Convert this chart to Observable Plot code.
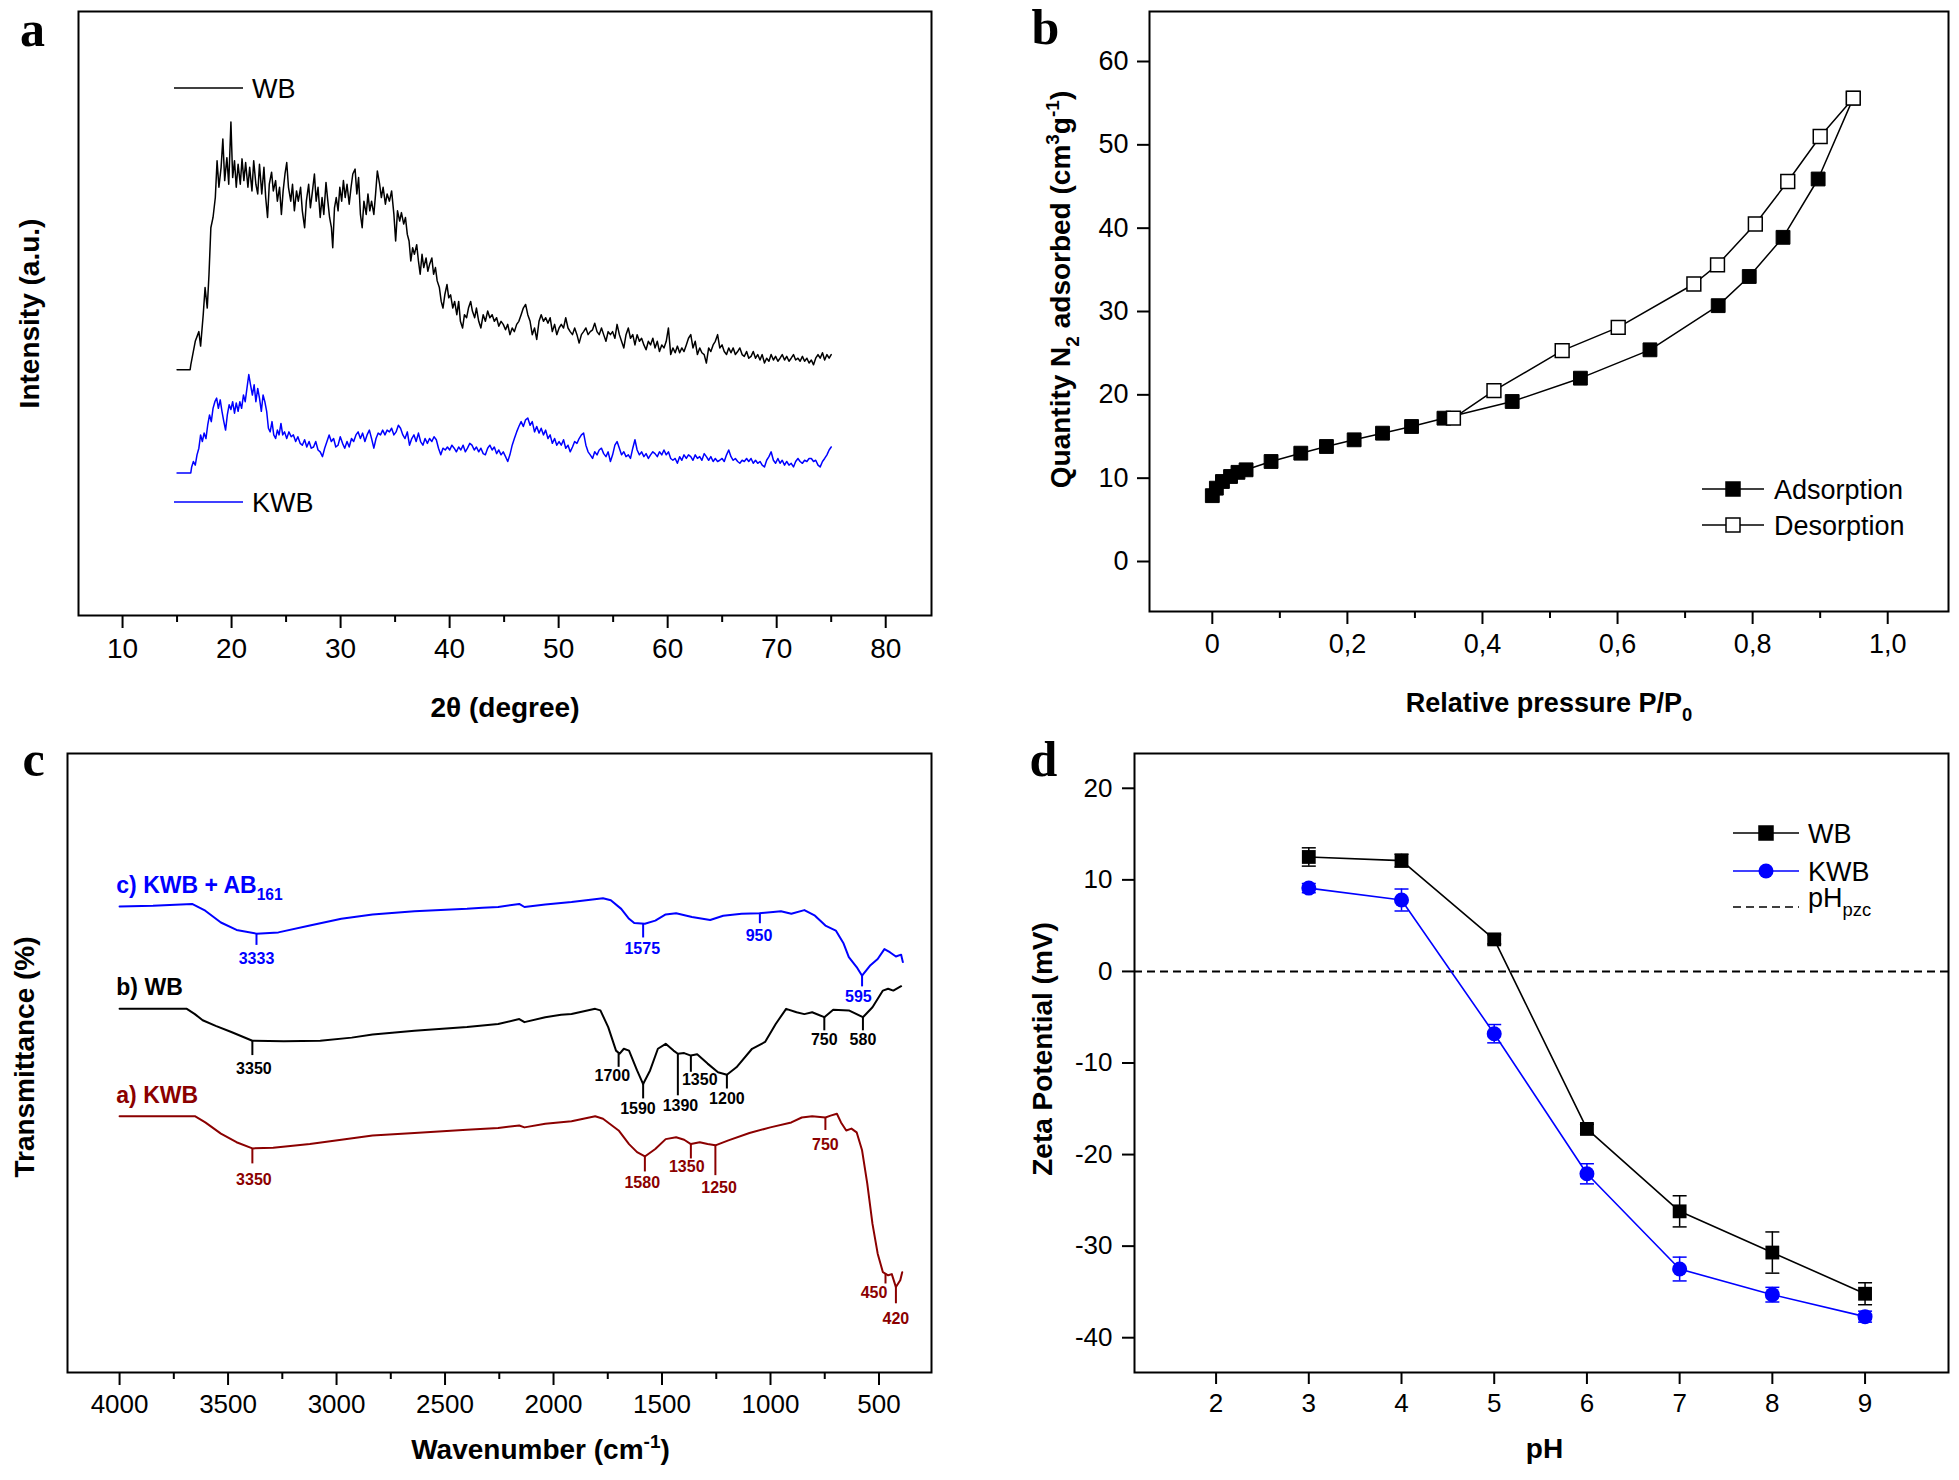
<!DOCTYPE html>
<html><head><meta charset="utf-8">
<script src="https://cdn.jsdelivr.net/npm/d3@7"></script>
<script src="https://cdn.jsdelivr.net/npm/@observablehq/plot@0.6"></script>
<style>
body{margin:0;background:#fff;}
#fig{position:relative;width:1959px;height:1480px;background:#fff;overflow:hidden;}
</style></head><body><div id="fig"></div>
<script>
// ---------- Panel a: XRD  ([2θ, intensity a.u.]) ----------
const xrdTicks = [10,20,30,40,50,60,70,80];
const xrdMinorTicks = [15,25,35,45,55,65,75];
const xrdWB = [[15.0,40.7],[16.2,40.7],[16.26,41.5],[16.67,45.4],[17.0,47.0],[17.16,44.6],[17.4,49.8],[17.57,54.3],[17.77,50.9],[17.93,56.5],[18.1,64.2],[18.3,65.9],[18.51,69.2],[18.67,75.3],[18.84,70.9],[19.04,74.2],[19.2,78.9],[19.37,72.0],[19.57,75.8],[19.74,71.4],[19.94,81.7],[20.1,72.5],[20.27,75.3],[20.43,70.9],[20.6,74.7],[20.8,71.4],[20.96,75.6],[21.13,72.0],[21.29,75.0],[21.5,70.9],[21.66,74.2],[21.87,70.3],[22.03,75.3],[22.23,71.4],[22.4,69.8],[22.56,74.7],[22.77,69.8],[22.97,74.2],[23.13,69.2],[23.3,65.9],[23.46,71.4],[23.67,73.4],[23.83,70.3],[24.04,72.0],[24.2,68.6],[24.4,70.9],[24.57,66.4],[24.73,70.3],[24.9,73.1],[25.06,75.0],[25.22,70.9],[25.43,68.6],[25.59,71.4],[25.76,67.0],[25.96,70.3],[26.12,68.6],[26.33,70.9],[26.49,67.0],[26.7,64.2],[26.86,68.6],[27.07,71.4],[27.23,67.5],[27.39,69.8],[27.6,73.1],[27.76,68.6],[27.93,70.9],[28.13,65.9],[28.3,69.2],[28.46,66.4],[28.66,71.7],[28.83,68.6],[28.99,65.9],[29.16,64.2],[29.28,60.9],[29.44,67.5],[29.6,69.2],[29.77,67.0],[29.93,70.9],[30.1,68.6],[30.26,72.0],[30.42,69.2],[30.59,71.4],[30.79,68.1],[30.96,70.9],[31.12,73.1],[31.33,73.9],[31.49,69.8],[31.65,72.5],[31.82,66.4],[31.98,64.2],[32.14,68.6],[32.35,66.4],[32.51,69.8],[32.68,67.0],[32.84,68.6],[33.05,66.4],[33.21,69.8],[33.37,73.6],[33.58,71.4],[33.74,69.2],[33.9,70.9],[34.11,68.1],[34.27,69.8],[34.48,68.6],[34.68,70.3],[34.89,66.4],[35.05,62.0],[35.22,67.0],[35.42,65.3],[35.58,66.7],[35.79,64.8],[35.95,65.9],[36.12,63.1],[36.28,62.0],[36.44,58.7],[36.61,60.9],[36.77,59.8],[36.98,61.4],[37.14,58.7],[37.3,56.5],[37.47,59.8],[37.63,57.6],[37.84,59.2],[38.0,57.0],[38.16,58.1],[38.37,59.2],[38.53,56.5],[38.7,57.6],[38.86,55.4],[39.06,54.3],[39.23,52.0],[39.39,50.9],[39.56,53.1],[39.76,54.8],[39.92,52.6],[40.09,53.1],[40.29,50.9],[40.46,52.0],[40.66,49.8],[40.83,52.0],[40.99,48.7],[41.19,47.6],[41.36,49.8],[41.56,49.3],[41.73,50.9],[41.93,52.0],[42.09,50.4],[42.3,49.3],[42.46,50.9],[42.67,48.7],[42.87,47.6],[43.08,49.8],[43.28,48.7],[43.49,50.4],[43.69,49.3],[43.9,49.8],[44.1,48.7],[44.31,49.3],[44.51,47.9],[44.72,48.7],[44.92,48.2],[45.13,47.3],[45.33,48.2],[45.53,46.5],[45.74,47.6],[45.94,47.0],[46.15,48.2],[46.35,48.7],[46.56,49.8],[46.76,50.9],[46.97,51.5],[47.17,49.8],[47.38,48.7],[47.58,46.5],[47.79,47.6],[47.99,45.7],[48.2,48.7],[48.4,49.8],[48.61,48.7],[48.81,49.3],[49.02,48.4],[49.22,49.3],[49.42,47.0],[49.63,48.2],[49.83,46.5],[50.04,47.6],[50.24,48.2],[50.45,47.6],[50.65,49.3],[50.86,47.6],[51.06,47.0],[51.27,46.5],[51.47,47.6],[51.68,46.5],[51.88,45.1],[52.09,46.5],[52.29,47.0],[52.5,47.6],[52.7,46.5],[52.9,47.0],[53.11,47.3],[53.31,48.4],[53.52,47.0],[53.72,46.5],[53.93,47.6],[54.13,46.5],[54.34,45.4],[54.54,47.0],[54.75,46.5],[54.95,47.0],[55.16,45.9],[55.36,48.2],[55.57,46.5],[55.77,45.4],[55.98,44.3],[56.18,46.5],[56.39,47.6],[56.59,45.9],[56.8,46.5],[57.0,44.8],[57.2,46.5],[57.41,45.4],[57.61,45.9],[57.82,44.8],[58.02,44.0],[58.23,45.4],[58.43,44.8],[58.64,45.9],[58.84,44.3],[59.05,45.4],[59.25,43.7],[59.46,44.8],[59.66,44.3],[59.87,45.4],[60.07,47.6],[60.28,43.2],[60.48,44.3],[60.69,43.5],[60.89,44.6],[61.1,43.5],[61.3,44.3],[61.5,43.7],[61.71,44.8],[61.91,45.9],[62.12,46.5],[62.32,44.3],[62.53,45.4],[62.73,43.2],[62.94,44.3],[63.14,43.5],[63.35,43.2],[63.55,41.8],[63.76,44.3],[63.96,43.7],[64.17,44.8],[64.37,45.4],[64.58,46.5],[64.78,44.3],[64.99,44.8],[65.19,43.7],[65.4,43.2],[65.6,44.3],[65.81,43.5],[66.01,44.3],[66.21,43.2],[66.42,43.7],[66.62,44.3],[66.83,43.2],[67.03,42.9],[67.24,43.7],[67.44,42.6],[67.65,42.9],[67.85,43.7],[68.06,42.6],[68.26,43.2],[68.47,42.3],[68.67,43.2],[68.88,41.8],[69.08,42.6],[69.29,42.1],[69.49,43.2],[69.7,42.3],[69.9,42.9],[70.11,42.1],[70.31,42.6],[70.51,43.2],[70.72,42.3],[70.92,42.9],[71.13,42.1],[71.33,42.6],[71.54,43.2],[71.74,42.3],[71.95,42.6],[72.15,42.1],[72.36,42.9],[72.56,42.1],[72.77,42.6],[72.97,41.8],[73.18,42.3],[73.38,41.5],[73.58,42.6],[73.79,43.2],[73.99,42.6],[74.2,43.5],[74.4,42.3],[74.61,43.2],[74.81,42.6],[75.0,43.2]];
const xrdKWB = [[15.0,23.6],[16.26,23.6],[16.34,24.6],[16.5,25.5],[16.67,24.9],[16.83,26.6],[17.0,27.7],[17.16,29.9],[17.32,28.8],[17.48,30.2],[17.65,29.3],[17.81,31.5],[17.98,33.2],[18.14,32.1],[18.3,34.3],[18.47,35.4],[18.63,36.0],[18.79,34.3],[18.96,35.7],[19.12,33.8],[19.29,32.1],[19.45,30.7],[19.61,33.2],[19.78,34.9],[19.94,34.1],[20.1,35.4],[20.27,33.5],[20.43,35.2],[20.6,33.8],[20.76,35.4],[20.92,34.3],[21.09,36.5],[21.25,35.4],[21.41,37.6],[21.58,39.9],[21.74,38.2],[21.91,36.5],[22.07,38.2],[22.23,35.4],[22.4,37.6],[22.56,36.0],[22.73,33.8],[22.89,36.5],[23.05,35.4],[23.22,33.8],[23.38,31.0],[23.54,30.4],[23.71,32.1],[23.87,29.9],[24.04,29.3],[24.2,30.7],[24.36,29.9],[24.53,31.8],[24.69,29.9],[24.86,30.4],[25.06,29.3],[25.26,30.4],[25.47,29.6],[25.67,29.9],[25.88,28.8],[26.08,29.6],[26.29,28.5],[26.49,28.2],[26.7,29.1],[26.9,27.9],[27.11,28.8],[27.31,27.7],[27.52,27.9],[27.72,28.8],[27.93,27.4],[28.13,27.1],[28.34,26.3],[28.54,27.7],[28.75,28.8],[28.95,29.9],[29.15,28.8],[29.36,29.3],[29.56,27.9],[29.77,28.2],[29.97,29.6],[30.18,28.5],[30.38,27.7],[30.59,28.8],[30.79,27.9],[31.0,29.3],[31.2,28.8],[31.41,29.9],[31.61,30.4],[31.82,29.3],[32.02,30.2],[32.23,28.8],[32.43,29.9],[32.64,30.7],[32.84,29.3],[33.05,27.7],[33.25,29.3],[33.45,30.2],[33.66,29.9],[33.86,30.7],[34.07,29.9],[34.27,30.7],[34.48,30.4],[34.68,31.0],[34.89,29.9],[35.09,30.4],[35.3,31.5],[35.5,31.0],[35.71,29.9],[35.91,29.3],[36.12,30.4],[36.32,28.2],[36.53,29.3],[36.73,29.9],[36.93,28.8],[37.14,30.2],[37.34,28.8],[37.55,28.2],[37.75,29.3],[37.96,28.5],[38.16,29.3],[38.37,28.8],[38.57,29.6],[38.78,29.1],[38.98,27.7],[39.19,26.6],[39.39,27.7],[39.6,27.4],[39.8,27.9],[40.01,27.4],[40.21,28.2],[40.42,27.7],[40.62,27.1],[40.83,27.9],[41.03,27.4],[41.24,28.2],[41.44,27.1],[41.64,27.7],[41.85,28.5],[42.05,28.2],[42.26,27.4],[42.46,27.9],[42.67,27.1],[42.87,27.7],[43.08,26.8],[43.28,26.6],[43.49,27.7],[43.69,28.2],[43.9,27.4],[44.1,27.9],[44.31,26.8],[44.51,27.4],[44.72,26.6],[44.92,27.1],[45.13,26.3],[45.33,25.5],[45.53,26.6],[45.74,28.2],[45.94,29.3],[46.15,30.4],[46.35,31.3],[46.56,32.1],[46.76,31.3],[46.97,32.4],[47.17,32.7],[47.38,31.5],[47.58,32.1],[47.79,30.4],[47.99,31.3],[48.2,30.2],[48.4,31.0],[48.61,29.9],[48.81,30.7],[49.02,29.3],[49.22,29.9],[49.42,28.5],[49.63,29.3],[49.83,28.2],[50.04,28.8],[50.24,28.2],[50.45,29.1],[50.65,27.7],[50.86,28.2],[51.06,27.1],[51.27,27.9],[51.47,28.8],[51.68,28.5],[51.88,29.3],[52.09,29.9],[52.29,30.2],[52.5,28.2],[52.7,27.1],[52.9,26.6],[53.11,26.0],[53.31,27.1],[53.52,26.6],[53.72,27.4],[53.93,27.7],[54.13,26.8],[54.34,26.3],[54.54,27.1],[54.75,25.5],[54.95,26.6],[55.16,28.2],[55.36,28.8],[55.57,27.7],[55.77,26.6],[55.98,27.1],[56.18,26.3],[56.39,26.6],[56.59,26.0],[56.8,27.7],[57.0,29.1],[57.2,27.4],[57.41,26.6],[57.61,27.1],[57.82,26.3],[58.02,26.8],[58.23,26.0],[58.43,26.6],[58.64,27.1],[58.84,26.8],[59.05,26.3],[59.25,27.1],[59.46,26.6],[59.66,27.4],[59.87,26.6],[60.07,27.1],[60.28,26.0],[60.48,25.7],[60.69,26.0],[60.89,25.2],[61.1,26.3],[61.3,25.7],[61.5,26.6],[61.71,26.0],[61.91,26.6],[62.12,26.3],[62.32,25.7],[62.53,26.6],[62.73,26.0],[62.94,26.3],[63.14,25.7],[63.35,26.8],[63.55,26.3],[63.76,25.7],[63.96,26.3],[64.17,25.5],[64.37,26.0],[64.58,25.5],[64.78,25.7],[64.99,26.0],[65.19,25.5],[65.4,26.6],[65.6,27.4],[65.81,26.3],[66.01,25.7],[66.21,26.0],[66.42,25.5],[66.62,25.2],[66.83,25.7],[67.03,25.5],[67.24,26.0],[67.44,25.5],[67.65,26.0],[67.85,25.2],[68.06,25.7],[68.26,25.2],[68.47,25.5],[68.67,24.9],[68.88,24.6],[69.08,25.7],[69.29,26.3],[69.49,27.1],[69.7,25.7],[69.9,25.2],[70.11,26.0],[70.31,25.2],[70.51,25.7],[70.72,24.9],[70.92,25.5],[71.13,24.9],[71.33,25.2],[71.54,24.6],[71.74,25.5],[71.95,26.0],[72.15,25.5],[72.36,25.2],[72.56,25.7],[72.77,25.5],[72.97,26.0],[73.18,26.0],[73.38,25.5],[73.58,25.7],[73.79,24.9],[73.99,24.6],[74.2,25.5],[74.4,26.0],[74.61,26.6],[74.81,27.4],[75.0,27.9]];

// ---------- Panel b: N2 isotherm ----------
const betXTicks = [0,0.2,0.4,0.6,0.8,1.0];
const betXMinor = [0.1,0.3,0.5,0.7,0.9];
const betYTicks = [0,10,20,30,40,50,60];
const betAdsP = [0.0,0.006,0.015,0.027,0.038,0.05,0.087,0.131,0.169,0.21,0.252,0.295,0.343,0.444,0.545,0.648,0.749,0.795,0.845,0.897,0.949];
const betAdsQ = [7.9,8.8,9.6,10.2,10.7,11.0,12.0,13.0,13.8,14.6,15.4,16.2,17.2,19.2,22.0,25.4,30.7,34.2,38.9,45.9,55.6];
const betDesP = [0.949,0.90,0.852,0.804,0.748,0.713,0.601,0.518,0.417,0.357];
const betDesQ = [55.6,51.0,45.6,40.5,35.6,33.3,28.1,25.3,20.5,17.2];

// ---------- Panel c: FTIR ----------
const ftirTicks = [4000,3500,3000,2500,2000,1500,1000,500];
const ftirMinor = [3750,3250,2750,2250,1750,1250,750];
const ftirWnC = [4000,3846,3666,3605,3533,3461,3369,3268,3123,2978,2834,2641,2399,2327,2255,2158,2134,2038,1917,1772,1736,1688,1652,1628,1579,1531,1483,1435,1362,1278,1218,1133,1049,988,952,904,844,795,747,699,663,639,603,578,542,506,475,450,422,398,390];
const ftirTC = [75.3,75.4,75.7,74.6,72.7,71.5,70.9,71.1,72.2,73.3,74.0,74.5,74.9,75.1,75.2,75.7,75.2,75.6,76.0,76.6,76.3,74.9,73.3,72.6,72.5,73.0,74.0,74.2,73.6,73.1,73.8,74.1,74.2,74.4,74.5,74.1,74.7,73.8,72.2,71.4,69.3,67.1,65.5,64.1,65.7,66.8,68.4,67.9,67.2,67.5,66.3];
const ftirWnB = [4000,3690,3653,3617,3557,3485,3388,3243,3075,2930,2834,2641,2399,2255,2158,2134,2038,1965,1917,1808,1784,1748,1712,1695,1676,1652,1615,1587,1555,1519,1483,1447,1427,1398,1367,1338,1290,1242,1201,1157,1085,1025,976,928,880,844,808,752,711,639,574,530,482,458,434,398];
const ftirTB = [58.75,58.75,57.9,56.9,56.0,55.0,53.6,53.5,53.6,54.1,54.6,55.2,55.8,56.3,57.1,56.6,57.4,57.8,57.9,58.75,58.5,55.8,52.0,51.5,52.3,52.0,48.8,46.6,48.8,52.3,53.1,52.0,51.5,51.6,51.2,51.4,49.9,48.5,48.1,49.3,52.3,53.4,56.3,58.75,58.2,57.9,58.2,57.4,58.6,58.5,57.4,59.0,61.7,62.0,61.7,62.4];
const ftirWnA = [4000,3653,3605,3533,3461,3388,3292,3123,2978,2834,2641,2399,2255,2158,2134,2038,1917,1808,1772,1700,1652,1615,1579,1531,1483,1435,1398,1367,1326,1290,1254,1194,1097,1001,904,856,808,747,723,694,675,651,627,603,578,554,530,506,482,458,441,422,402,393];
const ftirTA = [41.4,41.4,40.4,38.6,37.2,36.2,36.3,36.9,37.6,38.3,38.7,39.2,39.5,39.9,39.6,40.2,40.6,41.4,41.0,39.1,36.9,35.6,34.9,36.1,37.7,38.0,37.6,36.9,37.2,36.9,36.7,37.5,38.7,39.6,40.4,41.2,41.4,41.2,41.5,41.8,40.4,39.1,39.4,38.8,35.9,30.5,24.0,19.2,16.2,15.7,15.9,13.8,14.9,16.2];
// series name labels
const ftirSeriesText = ["c) KWB + AB_{161}", "b) WB", "a) KWB"];
const ftirSeriesKey = ["c", "b", "a"];
const ftirSeriesWn = [4015, 4015, 4015];
const ftirSeriesT = [78.7, 62.2, 44.7];
// peak annotations
const annKey   = ["c","c","c","c","b","b","b","b","b","b","b","b","a","a","a","a","a","a","a"];
const annText  = ["3333","1575","950","595","3350","1700","1590","1390","1350","1200","750","580","3350","1580","1350","1250","750","450","420"];
const annWn    = [3369,1587,1049,578,3388,1700,1587,1427,1367,1201,752,574,3388,1579,1367,1254,747,470,422];
const annTop   = [70.9,72.5,74.2,64.1,53.6,51.5,46.6,51.5,51.2,48.1,57.4,57.4,36.2,34.9,36.9,36.7,41.2,15.9,13.8];
const annBot   = [69.0,70.2,72.5,62.3,51.2,49.3,44.2,44.7,48.5,45.8,55.2,55.2,33.7,32.4,34.5,31.8,39.1,14.3,11.1];
const annLabWn = [3369,1591,1053,595,3381,1729,1611,1415,1326,1201,752,574,3381,1591,1386,1237,747,523,422];
const annLabT  = [66.8,68.4,70.6,60.7,49.1,48.0,42.6,43.1,47.2,44.2,53.8,53.8,31.1,30.6,33.2,29.9,36.7,12.9,8.7];

// ---------- Panel d: zeta potential ----------
const zetaXTicks = [2,3,4,5,6,7,8,9];
const zetaYTicks = [-40,-30,-20,-10,0,10,20];
const zetaPH = [3,4,5,6,7,8,9];
const zetaWB = [12.5,12.1,3.5,-17.2,-26.2,-30.7,-35.2];
const zetaWBErr = [1.0,0.7,0.5,0.5,1.7,2.25,1.2];
const zetaKWB = [9.1,7.8,-6.8,-22.1,-32.5,-35.3,-37.7];
const zetaKWBErr = [0.5,1.2,1.0,1.1,1.3,0.8,0.6];

// ---------- helpers ----------
const FONT = "'Liberation Sans', Arial, Helvetica, sans-serif";
const SERIF = "'Liberation Serif', 'Times New Roman', serif";
const BLUE = "#0000ff", DARKRED = "#8b0000";
const colorOf = {c: BLUE, b: "#000000", a: DARKRED};
const fig = document.getElementById("fig");

function place(svg, left, top) {
  svg.style.position = "absolute";
  svg.style.left = left + "px";
  svg.style.top = top + "px";
  fig.appendChild(svg);
  richify(svg);
  return svg;
}
// turn _{..} and ^{..} into real sub/superscript tspans
function richify(svg) {
  svg.querySelectorAll("text").forEach(t => {
    const s = t.textContent;
    if (!/[_^]\{/.test(s)) return;
    const holder = t.closest("[font-size]");
    const fs = parseFloat((t.getAttribute("font-size")) || (holder && holder.getAttribute("font-size")) || 28);
    while (t.firstChild) t.removeChild(t.firstChild);
    const re = /([_^])\{([^}]*)\}/g;
    let last = 0, m, shift = 0;
    const add = (txt, kind) => {
      if (!txt) return;
      const ts = document.createElementNS("http://www.w3.org/2000/svg", "tspan");
      let target = 0;
      if (kind === "_") target = 0.32 * fs;
      if (kind === "^") target = -0.42 * fs;
      ts.setAttribute("dy", (target - shift).toFixed(2));
      shift = target;
      if (kind) ts.setAttribute("font-size", (0.68 * fs).toFixed(1));
      ts.textContent = txt;
      t.appendChild(ts);
    };
    while ((m = re.exec(s))) {
      add(s.slice(last, m.index), null);
      add(m[2], m[1]);
      last = re.lastIndex;
    }
    add(s.slice(last), null);
  });
}
const capSym = {draw(ctx, size) { const w = Math.sqrt(size / Math.PI); ctx.moveTo(-w, 0); ctx.lineTo(w, 0); }};
function legendItem(svg, {x1, x2, y, color, dash, marker, fill, label, fs, tx}) {
  const g = d3.select(svg).append("g");
  g.append("line").attr("x1", x1).attr("x2", x2).attr("y1", y).attr("y2", y)
    .attr("stroke", color).attr("stroke-width", 1.6).attr("stroke-dasharray", dash || null);
  const cx = (x1 + x2) / 2;
  if (marker === "square") g.append("rect").attr("x", cx - 7).attr("y", y - 7).attr("width", 14).attr("height", 14)
      .attr("fill", fill).attr("stroke", color).attr("stroke-width", 1.5);
  if (marker === "circle") g.append("circle").attr("cx", cx).attr("cy", y).attr("r", 7.5).attr("fill", fill);
  g.append("text").attr("x", tx).attr("y", y).attr("dy", "0.36em").attr("text-anchor", "start")
    .attr("font-family", FONT).attr("font-size", fs).attr("fill", "black").text(label);
}
const idx = a => d3.range(a.length);
const T = {textAnchor: "middle", lineAnchor: "middle", text: d => d};

// ---------- Panel a ----------
const plotA = Plot.plot({
  width: 980, height: 740,
  marginLeft: 78, marginRight: 49, marginTop: 11, marginBottom: 125,
  style: {fontFamily: FONT, background: "transparent", color: "black", overflow: "visible"},
  x: {domain: [5.96, 84.2], label: null},
  y: {domain: [0, 100], axis: null, label: null},
  marks: [
    Plot.axisX({ticks: xrdMinorTicks, tickSize: 7, tickFormat: () => "", strokeWidth: 2}),
    Plot.axisX({ticks: xrdTicks, tickSize: 13, tickPadding: 10, fontSize: 28, strokeWidth: 2, tickFormat: d => String(d)}),
    Plot.line(xrdWB, {x: d => d[0], y: d => d[1], stroke: "black", strokeWidth: 1.5}),
    Plot.line(xrdKWB, {x: d => d[0], y: d => d[1], stroke: BLUE, strokeWidth: 1.5}),
    Plot.frame({stroke: "black", strokeWidth: 2}),
    Plot.text(["2θ (degree)"], {...T, frameAnchor: "bottom", dy: 93, fontSize: 28, fontWeight: "bold"}),
    Plot.text(["Intensity (a.u.)"], {...T, frameAnchor: "left", dx: -48, rotate: -90, fontSize: 28, fontWeight: "bold"}),
    Plot.text(["a"], {...T, frameAnchor: "top-left", dx: -46, dy: 18, fontSize: 50, fontWeight: "bold", fontFamily: SERIF})
  ]
});
place(plotA, 0, 0);
legendItem(plotA, {x1: 174, x2: 243, y: 88, color: "black", label: "WB", fs: 27, tx: 252});
legendItem(plotA, {x1: 174, x2: 243, y: 502, color: BLUE, label: "KWB", fs: 27, tx: 252});

// ---------- Panel b ----------
const plotB = Plot.plot({
  width: 979, height: 740,
  marginLeft: 169, marginRight: 11, marginTop: 11, marginBottom: 129,
  style: {fontFamily: FONT, background: "transparent", color: "black", overflow: "visible"},
  x: {domain: [-0.093, 1.09], label: null},
  y: {domain: [-6, 66], label: null},
  marks: [
    Plot.axisX({ticks: betXMinor, tickSize: 7, tickFormat: () => "", strokeWidth: 2}),
    Plot.axisX({ticks: betXTicks, tickSize: 13, tickPadding: 9, fontSize: 27, strokeWidth: 2,
      tickFormat: d => d === 0 ? "0" : d.toFixed(1).replace(".", ",")}),
    Plot.axisY({ticks: betYTicks, tickSize: 12, tickPadding: 9, fontSize: 27, strokeWidth: 2, tickFormat: d => String(d)}),
    Plot.line(idx(betAdsP), {x: i => betAdsP[i], y: i => betAdsQ[i], stroke: "black", strokeWidth: 1.5}),
    Plot.line(idx(betDesP), {x: i => betDesP[i], y: i => betDesQ[i], stroke: "black", strokeWidth: 1.5}),
    Plot.dot(idx(betAdsP), {x: i => betAdsP[i], y: i => betAdsQ[i], symbol: "square", r: 7.8, fill: "black", stroke: "black", strokeWidth: 1}),
    Plot.dot(idx(betDesP), {x: i => betDesP[i], y: i => betDesQ[i], symbol: "square", r: 7.8, fill: "white", stroke: "black", strokeWidth: 1.5}),
    Plot.frame({stroke: "black", strokeWidth: 2}),
    Plot.text(["Relative pressure P/P_{0}"], {...T, frameAnchor: "bottom", dy: 92, fontSize: 27, fontWeight: "bold"}),
    Plot.text(["Quantity N_{2} adsorbed (cm^{3}g^{-1})"], {...T, frameAnchor: "left", dx: -88, dy: -22, rotate: -90, fontSize: 28, fontWeight: "bold"}),
    Plot.text(["b"], {...T, frameAnchor: "top-left", dx: -104, dy: 16, fontSize: 50, fontWeight: "bold", fontFamily: SERIF})
  ]
});
place(plotB, 980, 0);
legendItem(plotB, {x1: 722, x2: 784, y: 489, color: "black", marker: "square", fill: "black", label: "Adsorption", fs: 27, tx: 794});
legendItem(plotB, {x1: 722, x2: 784, y: 525, color: "black", marker: "square", fill: "white", label: "Desorption", fs: 27, tx: 794});

// ---------- Panel c ----------
const annIdx = idx(annText);
const plotC = Plot.plot({
  width: 980, height: 740,
  marginLeft: 67, marginRight: 49, marginTop: 13, marginBottom: 108,
  style: {fontFamily: FONT, background: "transparent", color: "black", overflow: "visible"},
  x: {domain: [4240, 258], label: null},
  y: {domain: [0, 100], axis: null, label: null},
  marks: [
    Plot.axisX({ticks: ftirMinor, tickSize: 7, tickFormat: () => "", strokeWidth: 2}),
    Plot.axisX({ticks: ftirTicks, tickSize: 13, tickPadding: 9, fontSize: 26, strokeWidth: 2, tickFormat: d => String(d)}),
    Plot.line(idx(ftirWnC), {x: i => ftirWnC[i], y: i => ftirTC[i], stroke: BLUE, strokeWidth: 2}),
    Plot.line(idx(ftirWnB), {x: i => ftirWnB[i], y: i => ftirTB[i], stroke: "black", strokeWidth: 2}),
    Plot.line(idx(ftirWnA), {x: i => ftirWnA[i], y: i => ftirTA[i], stroke: DARKRED, strokeWidth: 2}),
    Plot.ruleX(annIdx, {x: i => annWn[i], y1: i => annTop[i], y2: i => annBot[i], stroke: i => colorOf[annKey[i]], strokeWidth: 2}),
    Plot.text(annIdx, {x: i => annLabWn[i], y: i => annLabT[i], text: i => annText[i], fill: i => colorOf[annKey[i]], fontSize: 16, fontWeight: "bold"}),
    Plot.text(idx(ftirSeriesText), {x: i => ftirSeriesWn[i], y: i => ftirSeriesT[i], text: i => ftirSeriesText[i], fill: i => colorOf[ftirSeriesKey[i]], textAnchor: "start", fontSize: 23, fontWeight: "bold"}),
    Plot.frame({stroke: "black", strokeWidth: 2}),
    Plot.text(["Wavenumber (cm^{-1})"], {...T, frameAnchor: "bottom", dx: 41, dy: 78, fontSize: 28, fontWeight: "bold"}),
    Plot.text(["Transmittance (%)"], {...T, frameAnchor: "left", dx: -42, dy: -6, rotate: -90, fontSize: 28, fontWeight: "bold"}),
    Plot.text(["c"], {...T, frameAnchor: "top-left", dx: -34, dy: 6, fontSize: 50, fontWeight: "bold", fontFamily: SERIF})
  ]
});
place(plotC, 0, 740);

// ---------- Panel d ----------
const zi = idx(zetaPH);
const plotD = Plot.plot({
  width: 979, height: 740,
  marginLeft: 154, marginRight: 11, marginTop: 13, marginBottom: 108,
  style: {fontFamily: FONT, background: "transparent", color: "black", overflow: "visible"},
  x: {domain: [1.12, 9.9], label: null},
  y: {domain: [-43.8, 23.8], label: null},
  marks: [
    Plot.axisX({ticks: zetaXTicks, tickSize: 12, tickPadding: 9, fontSize: 26, strokeWidth: 2, tickFormat: d => String(d)}),
    Plot.axisY({ticks: zetaYTicks, tickSize: 12, tickPadding: 10, fontSize: 26, strokeWidth: 2, tickFormat: d => String(d)}),
    Plot.ruleY([0], {stroke: "black", strokeWidth: 2, strokeDasharray: "8,5"}),
    Plot.line(zi, {x: i => zetaPH[i], y: i => zetaWB[i], stroke: "black", strokeWidth: 1.6}),
    Plot.line(zi, {x: i => zetaPH[i], y: i => zetaKWB[i], stroke: BLUE, strokeWidth: 1.6}),
    Plot.ruleX(zi, {x: i => zetaPH[i], y1: i => zetaWB[i] - zetaWBErr[i], y2: i => zetaWB[i] + zetaWBErr[i], stroke: "black", strokeWidth: 1.5}),
    Plot.dot(zi, {x: i => zetaPH[i], y: i => zetaWB[i] - zetaWBErr[i], symbol: capSym, r: 7, stroke: "black", strokeWidth: 1.5, fill: "none"}),
    Plot.dot(zi, {x: i => zetaPH[i], y: i => zetaWB[i] + zetaWBErr[i], symbol: capSym, r: 7, stroke: "black", strokeWidth: 1.5, fill: "none"}),
    Plot.ruleX(zi, {x: i => zetaPH[i], y1: i => zetaKWB[i] - zetaKWBErr[i], y2: i => zetaKWB[i] + zetaKWBErr[i], stroke: BLUE, strokeWidth: 1.5}),
    Plot.dot(zi, {x: i => zetaPH[i], y: i => zetaKWB[i] - zetaKWBErr[i], symbol: capSym, r: 7, stroke: BLUE, strokeWidth: 1.5, fill: "none"}),
    Plot.dot(zi, {x: i => zetaPH[i], y: i => zetaKWB[i] + zetaKWBErr[i], symbol: capSym, r: 7, stroke: BLUE, strokeWidth: 1.5, fill: "none"}),
    Plot.dot(zi, {x: i => zetaPH[i], y: i => zetaWB[i], symbol: "square", r: 7.8, fill: "black"}),
    Plot.dot(zi, {x: i => zetaPH[i], y: i => zetaKWB[i], symbol: "circle", r: 7.5, fill: BLUE}),
    Plot.frame({stroke: "black", strokeWidth: 2}),
    Plot.text(["pH"], {...T, frameAnchor: "bottom", dx: 3, dy: 77, fontSize: 28, fontWeight: "bold"}),
    Plot.text(["Zeta Potential (mV)"], {...T, frameAnchor: "left", dx: -91, dy: -14, rotate: -90, fontSize: 28, fontWeight: "bold"}),
    Plot.text(["d"], {...T, frameAnchor: "top-left", dx: -91, dy: 6, fontSize: 50, fontWeight: "bold", fontFamily: SERIF})
  ]
});
place(plotD, 980, 740);
legendItem(plotD, {x1: 753, x2: 819, y: 93, color: "black", marker: "square", fill: "black", label: "WB", fs: 27, tx: 828});
legendItem(plotD, {x1: 753, x2: 819, y: 131, color: BLUE, marker: "circle", fill: BLUE, label: "KWB", fs: 27, tx: 828});
legendItem(plotD, {x1: 753, x2: 819, y: 167, color: "black", dash: "8,5", label: "pH_{pzc}", fs: 27, tx: 828});
richify(plotD);
</script></body></html>
